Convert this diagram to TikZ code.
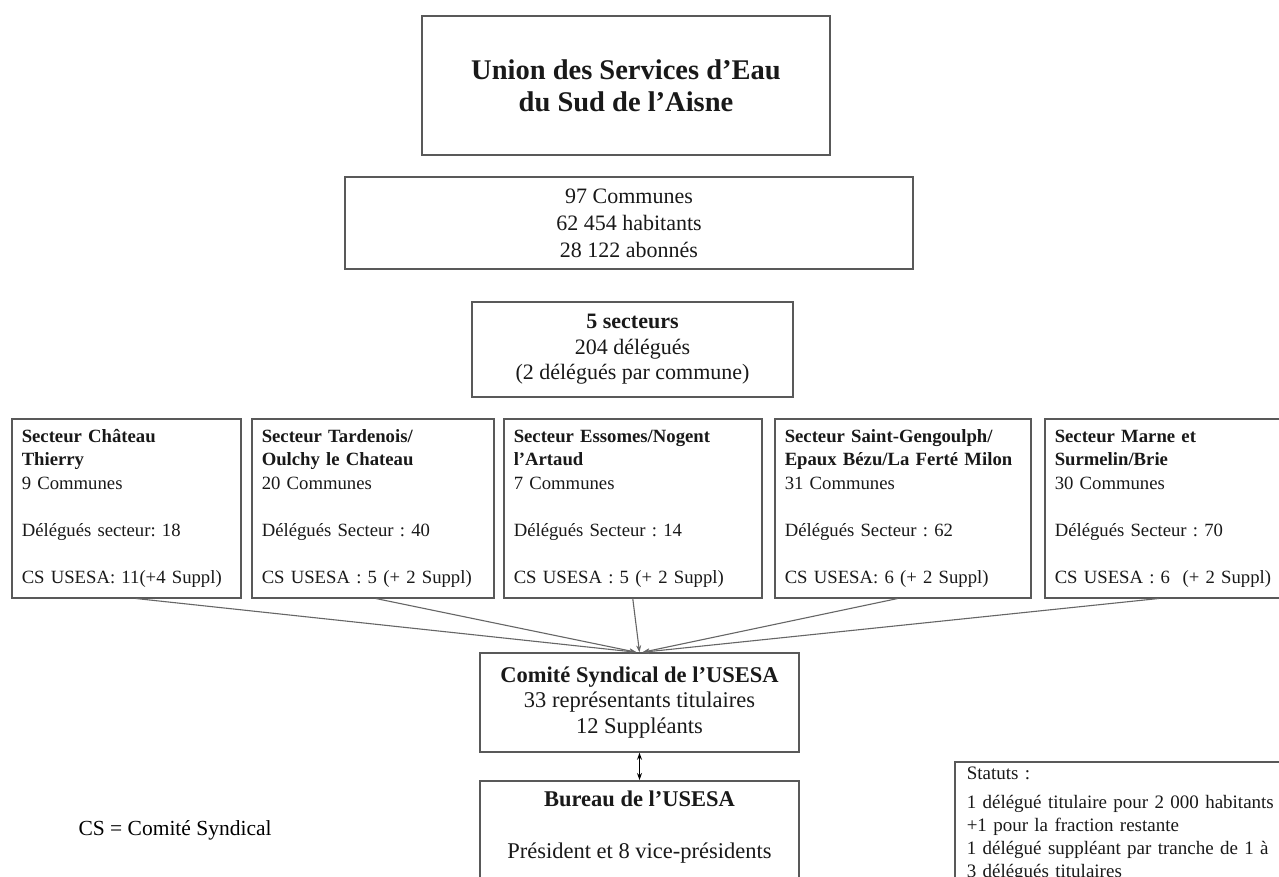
\documentclass[tikz,border=0pt]{standalone}
\usepackage{fontspec}
\setmainfont{Liberation Serif}
\frenchspacing
\usetikzlibrary{arrows.meta}

\tikzset{
  boite/.style={draw=black!65, line width=1.5pt, text=black!90, inner sep=0pt},
  secteur/.style={boite, anchor=north west, align=left, inner xsep=10pt,
    minimum height=179pt, font=\fontsize{18.7}{23.5}\selectfont},
  fleche/.style={draw=black!60, line width=1.1pt, -{Stealth[length=7pt,width=5pt]}},
}

\begin{document}
\begin{tikzpicture}[x=1pt, y=-1pt]
  \clip (0,0) rectangle (1279,877);
  \fill[white] (0,0) rectangle (1279,877);

  \node[boite, minimum width=408pt, minimum height=139pt, align=center,
        font=\bfseries\fontsize{28.5}{32}\selectfont] (usesa) at (626,85.5)
        {Union des Services d'Eau\\du Sud de l'Aisne};

  \node[boite, minimum width=568pt, minimum height=92pt, align=center,
        font=\fontsize{22}{27}\selectfont] (chiffres) at (629,223)
        {97 Communes\\62 454 habitants\\28 122 abonnés};

  \node[boite, minimum width=321pt, minimum height=95pt, align=center,
        font=\fontsize{22}{25.5}\selectfont] (secteurs) at (632.5,349.5)
        {\textbf{5 secteurs}\\204 délégués\\(2 délégués par commune)};

  % les cinq secteurs
  \node[secteur, text width=209pt] (s1) at (11,418)
    {\strut\textbf{Secteur Château}\\\textbf{Thierry}\\9 Communes\\[23.5pt]Délégués secteur: 18\\[23.5pt]CS USESA: 11(+4 Suppl)\strut};
  \node[secteur, text width=222pt] (s2) at (251,418)
    {\strut\textbf{Secteur Tardenois/}\\\textbf{Oulchy le Chateau}\\20 Communes\\[23.5pt]Délégués Secteur : 40\\[23.5pt]CS USESA : 5 (+ 2 Suppl)\strut};
  \node[secteur, text width=238pt] (s3) at (503,418)
    {\strut\textbf{Secteur Essomes/Nogent}\\\textbf{l'Artaud}\\7 Communes\\[23.5pt]Délégués Secteur : 14\\[23.5pt]CS USESA : 5 (+ 2 Suppl)\strut};
  \node[secteur, text width=236pt] (s4) at (774,418)
    {\strut\textbf{Secteur Saint-Gengoulph/}\\\textbf{Epaux Bézu/La Ferté Milon}\\31 Communes\\[23.5pt]Délégués Secteur : 62\\[23.5pt]CS USESA: 6 (+ 2 Suppl)\strut};
  \node[secteur, text width=236pt] (s5) at (1044,418)
    {\strut\textbf{Secteur Marne et}\\\textbf{Surmelin/Brie}\\30 Communes\\[23.5pt]Délégués Secteur : 70\\[23.5pt]CS USESA : 6~ (+ 2 Suppl)\strut};

  \node[boite, minimum width=319pt, minimum height=99pt, align=center,
        font=\fontsize{22.5}{25.5}\selectfont] (cs) at (639.5,702.5)
        {\textbf{Comité Syndical de l'USESA}\\33 représentants titulaires\\12 Suppléants};

  \node[boite, anchor=north, minimum width=319pt, align=center, inner ysep=10pt,
        font=\fontsize{22.5}{26}\selectfont] (bureau) at (639.5,780)
        {\textbf{Bureau de l'USESA}\\[26pt]Président et 8 vice-présidents\\[20pt]\mbox{}};

  \node[boite, anchor=north west, align=left, text width=330pt, inner xsep=12pt,
        inner ysep=5pt, font=\fontsize{19}{23}\selectfont] (statuts) at (954,761)
        {Statuts :\\[6pt]1 délégué titulaire pour 2 000 habitants\\+1 pour la fraction restante\\1 délégué suppléant par tranche de 1 à\\3 délégués titulaires\\[20pt]\mbox{}};

  \node[anchor=west, font=\fontsize{21.5}{24}\selectfont] (legende) at (75,830)
        {CS = Comité Syndical};

  \foreach \s/\dx/\ex in {s1/9.5/-3, s2/3/-3, s3/0/0, s4/-5/3, s5/-14/3}
    \draw[fleche] ([xshift=\dx pt]\s.south) -- ([xshift=\ex pt]cs.north);

  \draw[fleche, draw=black, {Stealth[length=7pt,width=5pt]}-{Stealth[length=7pt,width=5pt]}]
    (cs.south) -- (bureau.north);
\end{tikzpicture}
\end{document}
